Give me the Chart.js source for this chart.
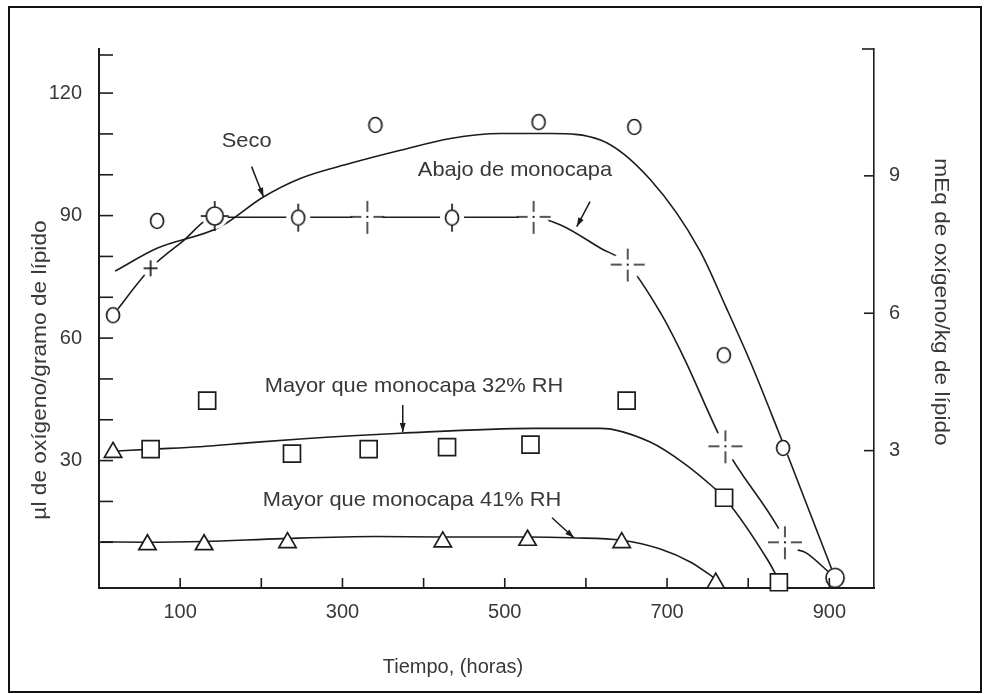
<!DOCTYPE html>
<html><head><meta charset="utf-8">
<script src="https://cdn.jsdelivr.net/npm/chart.js@4/dist/chart.umd.min.js"></script>
<style>html,body{margin:0;padding:0;background:#fff}canvas{display:block}</style>
</head><body>
<canvas id="c" width="984" height="694"></canvas>
<script>
// ---------- data ----------
const xTicks = [100, 200, 300, 400, 500, 600, 700, 800, 900];
const xTickLabels = [100, 300, 500, 700, 900];
const leftTicks = [10, 20, 30, 40, 50, 60, 70, 80, 90, 100, 110, 120];
const leftTickLabels = [30, 60, 90, 120];
const rightTickLabels = [3, 6, 9];

// "Seco" (circles, solid curve)
const secoPointsX = [71.6, 340.6, 541.7, 659.6, 770, 843, 907];
const secoPointsY = [88.7, 112.2, 112.9, 111.7, 55.8, 33.1, 1.3];
const secoCurveX = [19.7, 71.5, 149, 202, 248, 309.7, 371.4, 433.1, 494.7, 556.4, 618.1, 679.8, 740.2, 772.6, 803.2, 836.5, 845.2, 907];
const secoCurveY = [76.4, 82.0, 87.2, 94.5, 99.1, 102.8, 106.0, 108.9, 110.1, 110.1, 108.5, 98.7, 81.5, 67.6, 53.9, 37.5, 33.1, 1.3];

// "Abajo de monocapa"
const abajoPointsX = [17.3, 63.6, 142.6, 245.5, 330.7, 435, 535.5, 651.5, 771.9, 845.2];
const abajoPointsY = [65.6, 77.1, 89.9, 89.5, 89.7, 89.5, 89.7, 78.0, 33.5, 10.0];
const abajoCurveX = [17.3, 63.6, 102, 142.6, 245.5, 330.7, 435, 535.5, 568.8, 618.1, 651.4, 692.2, 720.5, 771.1, 836.5, 846.4, 872.4, 900.8, 907];
const abajoCurveY = [65.6, 77.1, 83.5, 89.6, 89.6, 89.6, 89.6, 89.6, 87.7, 82.0, 78.1, 66.1, 55.3, 33.5, 13.7, 9.8, 7.3, 2.4, 1.3];

// "Mayor que monocapa 32% RH" (squares)
const rh32PointsX = [63.6, 133.3, 237.8, 332.3, 428.9, 531.7, 650.2, 770.3, 837.8];
const rh32PointsY = [32.8, 44.7, 31.7, 32.8, 33.3, 33.9, 44.7, 20.9, 0.2];
const rh32CurveX = [17.3, 65.4, 124.6, 187.5, 248, 371.4, 535.5, 618.1, 679.8, 720.5, 756.3, 771.1, 824.2, 837.8];
const rh32CurveY = [32.3, 32.8, 33.4, 34.4, 35.3, 36.7, 37.9, 37.9, 34.5, 29.4, 23.6, 20.8, 5.6, 0.7];

// "Mayor que monocapa 41% RH" (triangles)
const rh41PointsX = [17.3, 59.7, 129.5, 232.3, 423.6, 528.1, 644.1, 760.0];
const rh41PointsY = [32.0, 9.4, 9.4, 9.9, 10.1, 10.5, 9.9, 0.0];
const rh41CurveX = [2.5, 59.2, 129.5, 225.8, 341.8, 419.5, 528.1, 582.4, 644, 690.9, 729.2, 760];
const rh41CurveY = [10.1, 10.0, 10.2, 10.9, 11.4, 11.3, 11.3, 11.1, 10.5, 8.4, 5.1, 1.0];

// text labels with arrows (data coordinates)
const annotations = [
  { text: 'Seco', x: 182, y: 108.1, arrow: [188, 102.0, 202.7, 94.6] },
  { text: 'Abajo de monocapa', x: 512.6, y: 101.1, arrow: [605.1, 93.4, 588.7, 87.3] },
  { text: 'Mayor que monocapa 32% RH', x: 388.2, y: 48.2, arrow: [374.3, 43.6, 374.3, 37.0] },
  { text: 'Mayor que monocapa 41% RH', x: 385.7, y: 20.3, arrow: [558.2, 16.0, 585.3, 11.1] }
];
const xTitle = 'Tiempo, (horas)';
const yTitle = 'µl de oxígeno/gramo de lípido';
const y2Title = 'mEq de oxígeno/kg de lípido';

// ---------- styles ----------
const INK = '#1c1c1c';
const TXT = '#383838';
const FAMILY = '"Liberation Sans", Arial, Helvetica, sans-serif';

function mk(size, draw) {
  const c = document.createElement('canvas');
  c.width = c.height = size;
  const g = c.getContext('2d');
  g.translate(size / 2, size / 2);
  g.strokeStyle = INK; g.lineWidth = 1.7; g.lineCap = 'butt';
  draw(g);
  return c;
}
function bg(g, r) { g.fillStyle = '#fff'; g.beginPath(); g.arc(0, 0, r, 0, Math.PI * 2); g.fill(); }
function seg(g, x1, y1, x2, y2) { g.beginPath(); g.moveTo(x1, y1); g.lineTo(x2, y2); g.stroke(); }

const mPhi = mk(32, g => { bg(g, 12); g.beginPath(); g.ellipse(0, 0, 6.5, 7.5, 0, 0, Math.PI * 2); g.stroke(); seg(g, 0, -14, 0, -7.5); seg(g, 0, 7.5, 0, 14); });
const mPhiCross = mk(34, g => { bg(g, 13); g.beginPath(); g.ellipse(0, 0, 8.5, 9, 0, 0, Math.PI * 2); g.stroke(); seg(g, 0, -15, 0, -9); seg(g, 0, 9, 0, 15); seg(g, -14, 0, -8.5, 0); seg(g, 8.5, 0, 14, 0); });
const mDashPlus = mk(38, g => { bg(g, 15); g.lineWidth = 1.5; seg(g, -17, 0, -6, 0); seg(g, 6, 0, 17, 0); seg(g, 0, -16, 0, -5); seg(g, 0, 5, 0, 17); g.fillStyle = INK; g.fillRect(-1, -1, 2, 2); });
const mPlus = mk(22, g => { bg(g, 9); seg(g, -7, 0, 7, 0); seg(g, 0, -8, 0, 8); });
const mCircle = mk(22, g => { bg(g, 8); g.beginPath(); g.ellipse(0, 0, 6.5, 7.5, 0, 0, Math.PI * 2); g.fill(); g.stroke(); });
const mBigCircle = mk(26, g => { bg(g, 10); g.beginPath(); g.ellipse(0, 0, 9, 9.5, 0, 0, Math.PI * 2); g.stroke(); });

const abajoStyles = [mCircle, mPlus, mPhiCross, mPhi, mDashPlus, mPhi, mDashPlus, mDashPlus, mDashPlus, mDashPlus];
const secoStyles = [mCircle, mCircle, mCircle, mCircle, mCircle, mCircle, mBigCircle];

const pts = (xs, ys) => xs.map((x, i) => ({ x, y: ys[i] }));
const curve = (label, xs, ys) => ({
  type: 'line', label, data: pts(xs, ys), borderColor: INK, borderWidth: 1.6,
  pointRadius: 0, cubicInterpolationMode: 'monotone', fill: false, order: 3, clip: false, yAxisID: 'y'
});
const marks = (label, xs, ys, style, radius) => ({
  type: 'line', label, data: pts(xs, ys), showLine: false, pointStyle: style, pointRadius: radius,
  pointBorderColor: INK, pointBackgroundColor: '#fff', pointBorderWidth: 1.7, order: 1, clip: false, yAxisID: 'y'
});

const decor = {
  id: 'decor',
  beforeDraw(chart) {
    const ctx = chart.ctx;
    ctx.save(); ctx.fillStyle = '#fff'; ctx.fillRect(0, 0, chart.width, chart.height); ctx.restore();
  },
  afterDraw(chart) {
    const ctx = chart.ctx, a = chart.chartArea;
    const sx = chart.scales.x, sy = chart.scales.y, sy2 = chart.scales.y2;
    ctx.save();
    ctx.strokeStyle = INK; ctx.lineWidth = 1.6;
    // inward tick marks
    xTicks.forEach(v => { const p = sx.getPixelForValue(v); seg(ctx, p, a.bottom, p, a.bottom - 10); });
    leftTicks.forEach(v => { const p = sy.getPixelForValue(v); seg(ctx, a.left, p, a.left + 14, p); });
    rightTickLabels.forEach(v => { const p = sy2.getPixelForValue(v); seg(ctx, a.right, p, a.right - 10, p); });
    seg(ctx, a.left, a.top + 6, a.left + 14, a.top + 6);
    seg(ctx, a.right, a.top, a.right - 12, a.top);
    // annotations
    ctx.fillStyle = TXT; ctx.textAlign = 'center'; ctx.textBaseline = 'middle';
    ctx.font = '21px ' + FAMILY;
    annotations.forEach(an => {
      const tx = sx.getPixelForValue(an.x), ty = sy.getPixelForValue(an.y);
      ctx.save(); ctx.translate(tx, ty); ctx.scale(1.04, 1); ctx.fillText(an.text, 0, 0); ctx.restore();
      const [x1, y1, x2, y2] = an.arrow;
      const p1x = sx.getPixelForValue(x1), p1y = sy.getPixelForValue(y1);
      const p2x = sx.getPixelForValue(x2), p2y = sy.getPixelForValue(y2);
      ctx.lineWidth = 1.5; seg(ctx, p1x, p1y, p2x, p2y);
      const ang = Math.atan2(p2y - p1y, p2x - p1x);
      ctx.fillStyle = INK; ctx.beginPath();
      ctx.moveTo(p2x, p2y);
      ctx.lineTo(p2x - 9 * Math.cos(ang) + 3 * Math.sin(ang), p2y - 9 * Math.sin(ang) - 3 * Math.cos(ang));
      ctx.lineTo(p2x - 9 * Math.cos(ang) - 3 * Math.sin(ang), p2y - 9 * Math.sin(ang) + 3 * Math.cos(ang));
      ctx.closePath(); ctx.fill();
      ctx.fillStyle = TXT;
    });
    // axis titles
    ctx.font = '20px ' + FAMILY;
    ctx.fillText(xTitle, a.left + 354, a.bottom + 79);
    ctx.font = '21px ' + FAMILY;
    ctx.save(); ctx.translate(a.left - 59, a.top + 321); ctx.rotate(-Math.PI / 2); ctx.scale(1.08, 1); ctx.fillText(yTitle, 0, 0); ctx.restore();
    ctx.save(); ctx.translate(a.right + 67, a.top + 253); ctx.rotate(Math.PI / 2); ctx.scale(1.08, 1); ctx.fillText(y2Title, 0, 0); ctx.restore();
    // outer frame
    ctx.lineWidth = 2; ctx.strokeStyle = '#111';
    ctx.strokeRect(9, 7, 972, 685);
    ctx.restore();
  }
};

const tickFont = { family: FAMILY, size: 20 };
new Chart(document.getElementById('c'), {
  type: 'line',
  data: {
    datasets: [
      marks('Seco', secoPointsX, secoPointsY, secoStyles, 7),
      marks('Abajo de monocapa', abajoPointsX, abajoPointsY, abajoStyles, 7),
      marks('Mayor que monocapa 32% RH', rh32PointsX, rh32PointsY, 'rect', 12),
      marks('Mayor que monocapa 41% RH', rh41PointsX, rh41PointsY, 'triangle', 10),
      curve('Seco curva', secoCurveX, secoCurveY),
      curve('Abajo curva', abajoCurveX, abajoCurveY),
      curve('32% curva', rh32CurveX, rh32CurveY),
      curve('41% curva', rh41CurveX, rh41CurveY)
    ]
  },
  options: {
    responsive: false, animation: false, devicePixelRatio: 1,
    layout: { padding: { top: 49, left: 0, right: 0, bottom: 0 } },
    plugins: { legend: { display: false }, tooltip: { enabled: false } },
    scales: {
      x: {
        type: 'linear', position: 'bottom', min: 0, max: 955,
        afterBuildTicks: s => { s.ticks = xTicks.map(v => ({ value: v })); },
        afterFit: s => { s.height = 106; },
        grid: { drawOnChartArea: false, drawTicks: false },
        border: { color: INK, width: 2 },
        ticks: { padding: 12, color: TXT, font: tickFont, maxRotation: 0, autoSkip: false,
          callback: v => xTickLabels.includes(v) ? String(v) : '' }
      },
      y: {
        type: 'linear', position: 'left', min: -1.2, max: 130.8,
        afterBuildTicks: s => { s.ticks = leftTicks.map(v => ({ value: v })); },
        afterFit: s => { s.width = 99; },
        grid: { drawOnChartArea: false, drawTicks: false },
        border: { color: INK, width: 2 },
        ticks: { padding: 17, color: TXT, font: tickFont, autoSkip: false,
          callback: v => leftTickLabels.includes(v) ? String(v) : '' }
      },
      y2: {
        type: 'linear', position: 'right', min: 0, max: 11.77, display: true,
        afterBuildTicks: s => { s.ticks = rightTickLabels.map(v => ({ value: v })); },
        afterFit: s => { s.width = 110; },
        grid: { drawOnChartArea: false, drawTicks: false },
        border: { color: INK, width: 1.6 },
        ticks: { padding: 15, color: TXT, font: tickFont, autoSkip: false, callback: v => String(v) }
      }
    }
  },
  plugins: [decor]
});
</script>
</body></html>
